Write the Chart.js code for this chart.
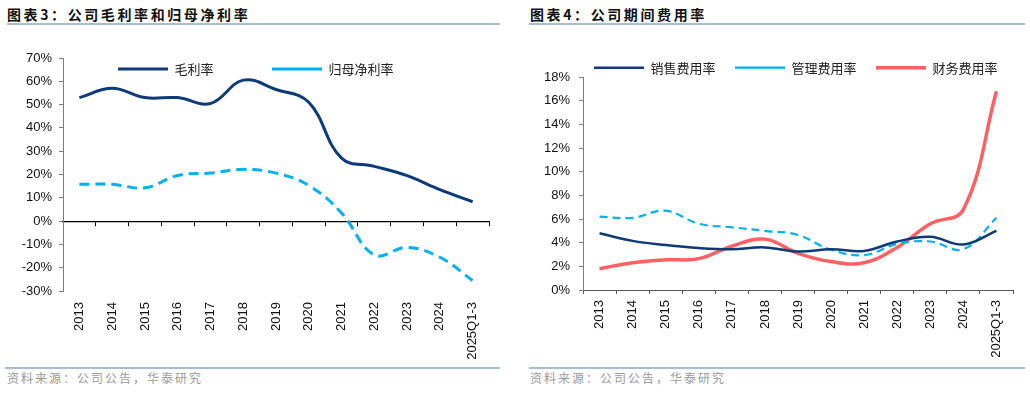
<!DOCTYPE html>
<html>
<head>
<meta charset="utf-8">
<script src="https://cdn.jsdelivr.net/npm/chart.js@4.4.1/dist/chart.umd.min.js"></script>
<style>
body{margin:0;background:#fff;width:1030px;height:393px;position:relative;overflow:hidden;font-family:"Noto Sans CJK SC",sans-serif}
.title{position:absolute;top:4px;font-size:14px;font-weight:bold;letter-spacing:2.6px;color:#111;line-height:20px;white-space:nowrap}
.rule{position:absolute;height:2px;background:#a9bdd6}
.src{position:absolute;top:370px;font-size:12px;color:#9a9a9a;letter-spacing:2px;line-height:16px;white-space:nowrap}
.box{position:absolute;top:30px;width:515px;height:335px}
</style>
</head>
<body>
<div class="title" style="left:7px">图表3：公司毛利率和归母净利率</div>
<div class="rule" style="left:7px;width:493px;top:23px"></div>
<div class="title" style="left:530px">图表4：公司期间费用率</div>
<div class="rule" style="left:529px;width:496px;top:23px"></div>

<div class="box" style="left:0"><canvas id="marginChart"></canvas></div>
<div class="box" style="left:515px"><canvas id="costChart"></canvas></div>

<div class="rule" style="left:5px;width:495px;top:367px"></div>
<div class="rule" style="left:529px;width:496px;top:367px"></div>
<div class="src" style="left:7px">资料来源：公司公告，华泰研究</div>
<div class="src" style="left:530px">资料来源：公司公告，华泰研究</div>

<script>
// categories
var years = ['2013','2014','2015','2016','2017','2018','2019','2020','2021','2022','2023','2024','2025Q1-3']

// chart 3, %
var grossMargin = [53, 57, 53, 53, 50.5, 60.5, 56.5, 51, 27, 23.5, 19.5, 13.5, 8.3]
var netMargin = [15.8, 15.8, 14.3, 19.6, 20.6, 22.2, 20.6, 15.3, 3.5, -14.5, -11.3, -15.5, -25.5]

// chart 4, %
var sellRate = [4.8, 4.15, 3.8, 3.55, 3.45, 3.6, 3.25, 3.45, 3.3, 4.1, 4.5, 3.85, 5.0]
var adminRate = [6.2, 6.1, 6.7, 5.6, 5.3, 5.0, 4.65, 3.4, 2.95, 3.9, 4.1, 3.45, 6.1]
var financeRate = [1.8, 2.3, 2.55, 2.65, 3.7, 4.3, 3.1, 2.4, 2.3, 3.6, 5.6, 6.8, 16.8]

var NAVY = '#0d3b7a'
var SKY = '#00b0f0'
var RED = '#ff6163'
var axisFont = {family: 'Liberation Sans', size: 13}
var legendFontSize = 13

// legend takes (almost) no layout room, then gets moved to where the original has it
var legendSpot = {
    id: 'legendSpot',
    afterLayout(chart, args, opts) {
        var lg = chart.legend
        if (!lg) return
        var pad = lg.options.labels.padding
        lg.left = opts.x - pad
        lg.right = chart.width
        lg.top = opts.y - pad - legendFontSize / 2
        lg.bottom = chart.height
        lg.width = lg.right - lg.left
        lg.height = lg.bottom - lg.top
    }
}

function legendOpts(pad) {
    return {
        position: 'top',
        align: 'start',
        maxHeight: 1,
        labels: {
            usePointStyle: true,
            pointStyle: 'line',
            pointStyleWidth: 50,
            padding: pad,
            color: '#222',
            font: {family: 'Noto Sans CJK SC', size: legendFontSize}
        }
    }
}

function yAxis(min, max, step, width, pad) {
    return {
        min: min,
        max: max,
        ticks: {stepSize: step, callback: v => v + '%', color: '#111', font: axisFont, padding: pad},
        grid: {drawOnChartArea: false, tickLength: 4, color: '#7f7f7f'},
        border: {color: '#7f7f7f'},
        afterFit: s => { s.width = width }
    }
}

function line(label, data, color, width, dash) {
    return {
        label: label,
        data: data,
        borderColor: color,
        backgroundColor: color,
        borderWidth: width,
        borderDash: dash || [],
        pointRadius: 0,
        pointHoverRadius: 0,
        tension: 0.4,
        fill: false
    }
}

new Chart(document.getElementById('marginChart'), {
    type: 'line',
    data: {
        labels: years,
        datasets: [
            line('毛利率', grossMargin, NAVY, 3),
            line('归母净利率', netMargin, SKY, 3, [10, 6])
        ]
    },
    plugins: [legendSpot],
    options: {
        responsive: true,
        maintainAspectRatio: false,
        animation: false,
        events: [],
        layout: {padding: {left: 0, right: 26, top: 27, bottom: 0}},
        plugins: {
            legend: legendOpts(58.5),
            legendSpot: {x: 118, y: 39},
            tooltip: {enabled: false}
        },
        scales: {
            x: {
                offset: true,
                grid: {display: false, drawTicks: false},
                border: {display: false},
                ticks: {minRotation: 90, maxRotation: 90, autoSkip: false, padding: 11, color: '#111', font: axisFont},
                afterFit: s => { s.height = 74 }
            },
            x0: {
                type: 'category',
                position: {y: 0},
                offset: true,
                grid: {offset: true, drawOnChartArea: false, tickLength: 4, color: '#000'},
                border: {color: '#000', width: 1.2},
                ticks: {display: false}
            },
            y: yAxis(-30, 70, 10, 63, 7)
        }
    }
})

new Chart(document.getElementById('costChart'), {
    type: 'line',
    data: {
        labels: years,
        datasets: [
            line('销售费用率', sellRate, NAVY, 2.5),
            line('管理费用率', adminRate, SKY, 2.2, [8, 5]),
            line('财务费用率', financeRate, RED, 3.5)
        ]
    },
    plugins: [legendSpot],
    options: {
        responsive: true,
        maintainAspectRatio: false,
        animation: false,
        events: [],
        layout: {padding: {left: 0, right: 17, top: 46, bottom: 0}},
        plugins: {
            legend: legendOpts(19.5),
            legendSpot: {x: 79, y: 37.7},
            tooltip: {enabled: false}
        },
        scales: {
            x: {
                offset: true,
                grid: {offset: true, drawOnChartArea: false, tickLength: 4, color: '#595959'},
                border: {color: '#595959'},
                ticks: {minRotation: 90, maxRotation: 90, autoSkip: false, padding: 6, color: '#111', font: axisFont},
                afterFit: s => { s.height = 75 }
            },
            y: yAxis(0, 18, 2, 68, 9)
        }
    }
})
</script>
</body>
</html>
